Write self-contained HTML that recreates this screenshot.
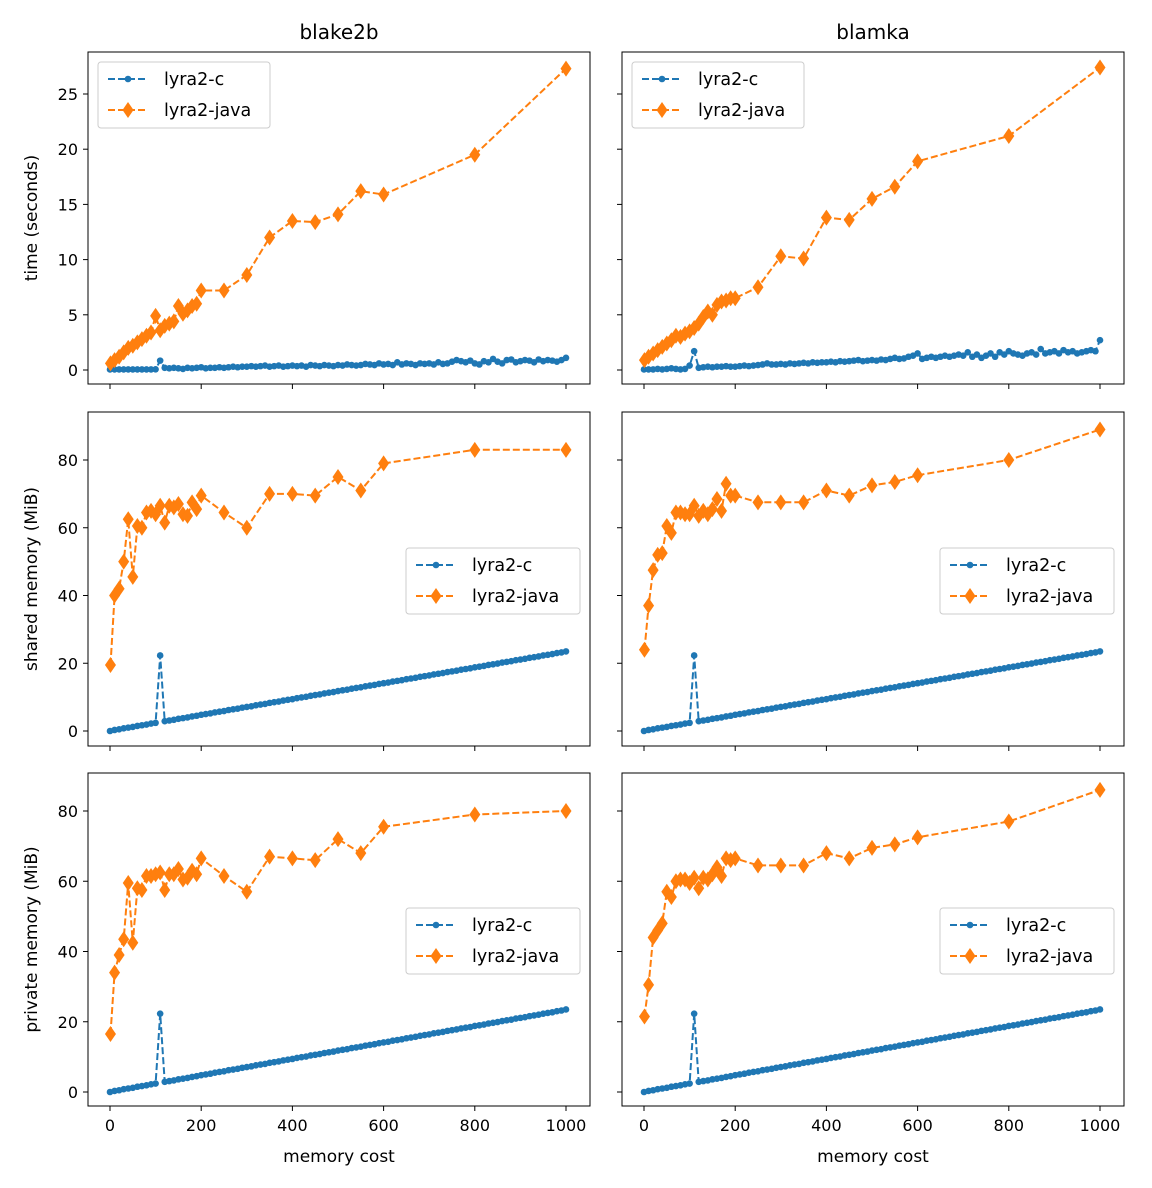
<!DOCTYPE html>
<html><head><meta charset="utf-8"><style>
body{margin:0;background:#fff}
svg{display:block;font-family:"DejaVu Sans","Liberation Sans",sans-serif}
</style></head><body>
<svg id="chart" width="1152" height="1188" viewBox="0 0 1152 1188"></svg>
<script>
const javaX=[1,10,20,30,40,50,60,70,80,90,100,110,120,130,140,150,160,170,180,190,200,250,300,350,400,450,500,550,600,800,1000];
const cX=[];for(let i=0;i<=100;i++)cX.push(i*10);
const blakeTimeJava=[0.6,0.9,1.2,1.6,2.0,2.2,2.5,2.8,3.1,3.4,4.9,3.6,4.0,4.2,4.4,5.8,5.1,5.4,5.8,6.0,7.2,7.2,8.6,12.0,13.5,13.4,14.1,16.2,15.9,19.5,27.3];
const blamkaTimeJava=[0.9,1.2,1.5,1.8,2.1,2.4,2.7,3.1,3.0,3.3,3.5,3.8,4.2,4.8,5.3,5.0,5.9,6.2,6.3,6.5,6.5,7.5,10.3,10.1,13.8,13.6,15.5,16.6,18.9,21.2,27.4];
const blakeTimeC=[0.05,0.05,0.05,0.05,0.05,0.05,0.05,0.05,0.05,0.05,
0.06,0.85,0.2,0.15,0.2,0.15,0.1,0.2,0.15,0.2,
0.25,0.15,0.2,0.2,0.25,0.2,0.25,0.3,0.25,0.3,
0.3,0.35,0.3,0.35,0.4,0.3,0.35,0.4,0.3,0.35,
0.4,0.35,0.4,0.3,0.45,0.4,0.35,0.45,0.4,0.35,
0.45,0.4,0.5,0.45,0.4,0.45,0.55,0.5,0.45,0.6,
0.5,0.55,0.45,0.7,0.5,0.6,0.55,0.45,0.6,0.55,
0.6,0.5,0.7,0.55,0.6,0.75,0.9,0.8,0.7,0.85,
0.6,0.5,0.8,0.7,1.0,0.75,0.6,0.9,0.95,0.7,
0.8,0.9,0.85,0.7,0.95,0.8,0.9,0.85,0.75,0.9,1.1];
const blamkaTimeC=[0.05,0.05,0.05,0.1,0.05,0.1,0.15,0.1,0.05,0.1,
0.4,1.7,0.2,0.25,0.3,0.25,0.3,0.3,0.35,0.3,
0.3,0.35,0.4,0.35,0.4,0.45,0.5,0.6,0.5,0.5,
0.55,0.5,0.6,0.55,0.6,0.65,0.6,0.7,0.65,0.7,
0.7,0.75,0.7,0.8,0.75,0.8,0.85,0.9,0.8,0.85,
0.9,0.85,0.95,0.9,1.0,1.1,1.0,1.05,1.2,1.3,
1.5,1.0,1.1,1.2,1.1,1.2,1.3,1.2,1.3,1.4,
1.3,1.6,1.2,1.4,1.1,1.3,1.5,1.2,1.6,1.4,
1.7,1.5,1.4,1.3,1.5,1.6,1.4,1.9,1.5,1.6,
1.7,1.5,1.8,1.6,1.7,1.5,1.6,1.7,1.8,1.7,2.7];
const memC=[0,0.3,0.5,0.8,1.0,1.2,1.5,1.7,1.9,2.2,2.4,22.3,2.9,3.1,3.3,3.6,3.8,4.0,4.3,4.5,4.8,5.0,5.2,5.5,5.7,5.9,6.2,6.4,6.6,6.9,7.1,7.3,7.6,7.8,8.0,8.3,8.5,8.7,9.0,9.2,9.4,9.7,9.9,10.1,10.4,10.6,10.8,11.1,11.3,11.5,11.8,12.0,12.2,12.5,12.7,12.9,13.2,13.4,13.6,13.9,14.1,14.3,14.6,14.8,15.0,15.3,15.5,15.7,16.0,16.2,16.4,16.7,16.9,17.1,17.4,17.6,17.8,18.1,18.3,18.5,18.8,19.0,19.2,19.5,19.7,19.9,20.2,20.4,20.6,20.9,21.1,21.3,21.6,21.8,22.0,22.3,22.5,22.7,23.0,23.2,23.5];
const blakeSharedJava=[19.5,40,42,50,62.5,45.5,60.5,60,64.5,65,64,66.5,61.5,66.5,66,67,64,63.5,67.5,65.5,69.5,64.5,60,70,70,69.5,75,71,79,83,83];
const blamkaSharedJava=[24,37,47.5,52,52.5,60.5,58.5,64.5,64.5,64,64,66.5,63.5,65,64,65.5,68.5,65,73,69.5,69.5,67.5,67.5,67.5,71,69.5,72.5,73.5,75.5,80,89];
const blakePrivJava=[16.5,34,39,43.5,59.5,42.5,58,57.5,61.5,61.5,62,62.5,57.5,62,62,63.5,60.5,61,63,62,66.5,61.5,57,67,66.5,66,72,68,75.5,79,80];
const blamkaPrivJava=[21.5,30.5,44,46,48,57,55.5,60,60.5,60.5,59.5,61,58,61,60.5,62,64,61.5,66.5,66,66.5,64.5,64.5,64.5,68,66.5,69.5,70.5,72.5,77,86];
const xTicks=[0,200,400,600,800,1000];
const timeTicks=[0,5,10,15,20,25];
const memTicks=[0,20,40,60,80];

const NS="http://www.w3.org/2000/svg";
const svg=document.getElementById('chart');
function el(tag,attrs,parent,txt){const e=document.createElementNS(NS,tag);for(const k in attrs)e.setAttribute(k,attrs[k]);if(txt!==undefined)e.textContent=txt;(parent||svg).appendChild(e);return e;}
const cols=[{x0:88,x1:590,z:110,k:0.456},{x0:622,x1:1124,z:644,k:0.456}];
const rows=[{y0:52,y1:384,z:370,k:11.04,ticks:timeTicks,label:'time (seconds)',leg:62},
{y0:412,y1:746,z:731,k:3.3875,ticks:memTicks,label:'shared memory (MiB)',leg:548},
{y0:773,y1:1106,z:1092,k:3.5125,ticks:memTicks,label:'private memory (MiB)',leg:908}];
const data=[[[blakeTimeC,blakeTimeJava],[blamkaTimeC,blamkaTimeJava]],
[[memC,blakeSharedJava],[memC,blamkaSharedJava]],
[[memC,blakePrivJava],[memC,blamkaPrivJava]]];
const BLUE='#1f77b4',ORANGE='#ff7f0e';
const DASH='7,3';
['blake2b','blamka'].forEach((t,c)=>{
  const tt=el('text',{x:(cols[c].x0+cols[c].x1)/2,y:39,'text-anchor':'middle','font-size':20},svg,t);
  
});
rows.forEach((r,ri)=>{cols.forEach((c,ci)=>{
  const g=el('g',{});
  
  
  const sx=v=>c.z+v*c.k, sy=v=>r.z-v*r.k;
  xTicks.forEach(v=>{el('line',{x1:sx(v),x2:sx(v),y1:r.y1,y2:r.y1+5,stroke:'#000','stroke-width':1},g);
    if(ri===2){const t=el('text',{x:sx(v),y:r.y1+25,'text-anchor':'middle','font-size':16},g,String(v));}});
  r.ticks.forEach(v=>{el('line',{x1:c.x0-5,x2:c.x0,y1:sy(v),y2:sy(v),stroke:'#000','stroke-width':1},g);
    if(ci===0){const t=el('text',{x:c.x0-10,y:sy(v)+6,'text-anchor':'end','font-size':16},g,String(v));}});
  if(ci===0){const yl=el('text',{transform:`translate(37,${(r.y0+r.y1)/2}) rotate(-90)`,'text-anchor':'middle','font-size':17},g,r.label);}
  if(ri===2){const xl=el('text',{x:(c.x0+c.x1)/2,y:1162,'text-anchor':'middle','font-size':17},g,'memory cost');}
  const [cv,jv]=data[ri][ci];
  const cp=cX.map((x,i)=>sx(x).toFixed(1)+','+sy(cv[i]).toFixed(1)).join(' ');
  const cl=el('polyline',{points:cp,fill:'none',stroke:BLUE,'stroke-width':2,'stroke-dasharray':DASH},g);
  
  cX.forEach((x,i)=>{const m=el('circle',{cx:sx(x),cy:sy(cv[i]),r:3.3,fill:BLUE},g);});
  const jp=javaX.map((x,i)=>sx(x).toFixed(1)+','+sy(jv[i]).toFixed(1)).join(' ');
  const jl=el('polyline',{points:jp,fill:'none',stroke:ORANGE,'stroke-width':2,'stroke-dasharray':DASH},g);
  
  javaX.forEach((x,i)=>{const X=sx(x),Y=sy(jv[i]);const m=el('polygon',{points:`${X},${Y-8} ${X+5.5},${Y} ${X},${Y+8} ${X-5.5},${Y}`,fill:ORANGE},g);});
  el('rect',{x:c.x0,y:r.y0,width:c.x1-c.x0,height:r.y1-r.y0,fill:'none',stroke:'#000','stroke-width':1},g);
  const lx=ri===0?c.x0+10:c.x0+318, ly=r.leg;
  const lg=el('g',{},g);
  
  el('rect',{x:lx,y:ly,width:ri===0?172:174,height:66,rx:3,fill:'#fff','fill-opacity':0.8,stroke:'#ccc'},lg);
  [['lyra2-c',BLUE],['lyra2-java',ORANGE]].forEach(([n,col],k)=>{
    const yy=ly+17+k*31;
    el('line',{x1:lx+10,x2:lx+50,y1:yy,y2:yy,stroke:col,'stroke-width':2,'stroke-dasharray':DASH},lg);
    if(k===0)el('circle',{cx:lx+30,cy:yy,r:3.3,fill:col},lg);
    else el('polygon',{points:`${lx+30},${yy-8} ${lx+35.5},${yy} ${lx+30},${yy+8} ${lx+24.5},${yy}`,fill:col},lg);
    const t=el('text',{x:lx+66,y:yy+6,'font-size':17.5},lg,n);
    
  });
});});
</script>
</body></html>
